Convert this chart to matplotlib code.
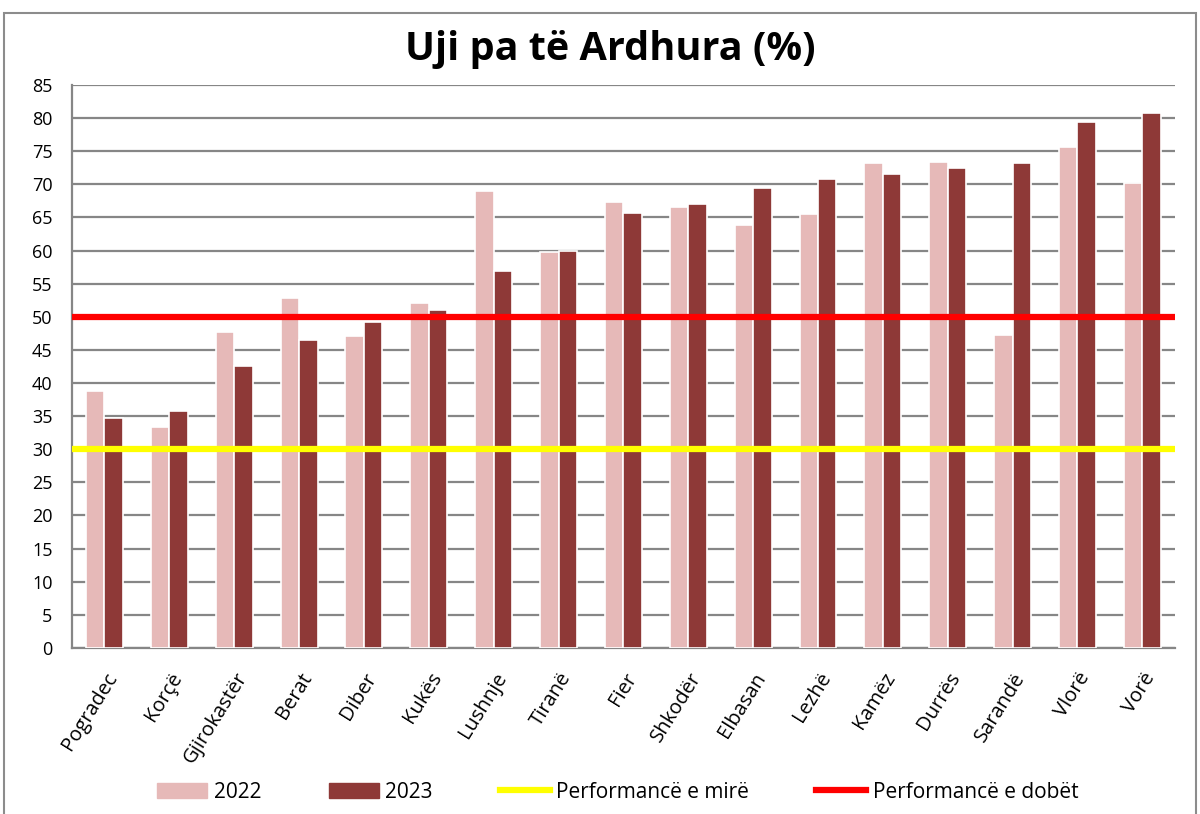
import matplotlib.pyplot as plt
import matplotlib.patches as mpatches
from matplotlib.lines import Line2D
import numpy as np

# te dhenat
qytetet = ['Pogradec', 'Korçë', 'Gjirokastër', 'Berat', 'Diber', 'Kukës', 'Lushnje',
           'Tiranë', 'Fier', 'Shkodër', 'Elbasan', 'Lezhë', 'Kamëz', 'Durrës',
           'Sarandë', 'Vlorë', 'Vorë']
v2022 = [38.8, 33.4, 47.7, 52.8, 47.1, 52.1, 69.0, 59.8, 67.3, 66.6, 63.9, 65.5,
         73.2, 73.4, 47.2, 75.7, 70.2]
v2023 = [34.7, 35.8, 42.6, 46.5, 49.2, 51.0, 56.9, 59.9, 65.7, 67.0, 69.4, 70.8,
         71.5, 72.4, 73.2, 79.4, 80.7]
mire = 30
dobet = 50
yticks = list(range(0, 90, 5))

plt.rcParams['font.family'] = ['Open Sans', 'DejaVu Sans']

fig = plt.figure(figsize=(12, 8.14), dpi=100)
ax = fig.add_axes([0.06, 0.204, 0.919, 0.6916])

# kornize e jashtme
fig.patches.append(mpatches.Rectangle((0.0035, -0.05), 0.993, 1.034, transform=fig.transFigure,
                                      fill=False, edgecolor='#8c8c8c', linewidth=1.5))

x = np.arange(len(qytetet))
w = 0.285
ax.bar(x - w / 2, v2022, w, color='#E6B9B8', edgecolor='white', linewidth=1.2, zorder=3, label='2022')
ax.bar(x + w / 2, v2023, w, color='#8E3937', edgecolor='white', linewidth=1.2, zorder=3, label='2023')
ax.axhline(mire, color='#FFFF00', linewidth=4.5, zorder=4)
ax.axhline(dobet, color='#FF0000', linewidth=4.5, zorder=4)

ax.set_xlim(-0.5, len(qytetet) - 0.5)
ax.set_ylim(0, 85)
ax.set_yticks(yticks)
ax.yaxis.grid(True, color='#868686', linewidth=1.6, zorder=0)
ax.set_axisbelow(True)
for s in ['top', 'right']:
    ax.spines[s].set_visible(False)
ax.spines['left'].set_color('#868686')
ax.spines['bottom'].set_color('#868686')
ax.spines['left'].set_linewidth(1.6)
ax.spines['bottom'].set_linewidth(1.6)
ax.tick_params(axis='y', length=0, labelsize=13, pad=14)
ax.tick_params(axis='x', length=0, labelsize=14.5, pad=15)
ax.set_xticks(x)
ax.set_xticklabels(qytetet, rotation=58, ha='right', rotation_mode='anchor')

fig.text(0.509, 0.939, 'Uji pa të Ardhura (%)', ha='center', va='center',
         fontsize=28.5, fontweight='bold')

handles = [mpatches.Patch(color='#E6B9B8'), mpatches.Patch(color='#8E3937'),
           Line2D([], [], color='#FFFF00', linewidth=4.5),
           Line2D([], [], color='#FF0000', linewidth=4.5)]
labels = ['2022', '2023', 'Performancë e mirë', 'Performancë e dobët']
fig.legend(handles, labels, loc='center', bbox_to_anchor=(0.515, 0.027), ncol=4,
           frameon=False, fontsize=15, handlelength=2.4, handleheight=0.7,
           handletextpad=0.33, columnspacing=3.2)

fig.savefig('out.png', dpi=100)
